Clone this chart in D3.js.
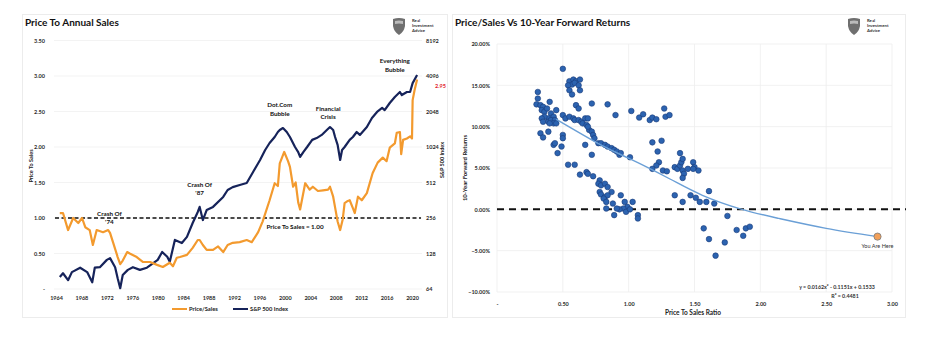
<!DOCTYPE html>
<html>
<head>
<meta charset="utf-8">
<script src="https://cdn.jsdelivr.net/npm/d3@7"></script>
<style>
  body { margin: 0; background: #fff; }
  svg text { font-family: Lato, "Open Sans", sans-serif; }
</style>
</head>
<body>
<svg id="chart" width="927" height="337"></svg>
<script>
// ---- left chart data: price to sales ratio and S&P 500 ----
const psYears = [
  1964.6,1965.1,1965.9,1966.7,1967.5,1968.1,1968.6,1969.3,1969.8,1970.4,
  1971.4,1972.2,1972.5,1973.0,1973.7,1974.1,1974.5,1975.2,1975.6,1976.7,
  1977.7,1978.8,1979.9,1980.8,1981.9,1982.4,1983.0,1983.5,1984.6,1985.5,
  1986.3,1986.6,1987.1,1987.7,1988.7,1989.5,1990.3,1991.0,1991.8,1992.9,
  1994.0,1994.8,1995.8,1996.5,1997.6,1998.4,1998.9,1999.2,1999.9,2000.5,
  2000.8,2001.3,2001.7,2002.1,2002.4,2003.2,2003.9,2004.4,2005.2,2006.0,
  2006.8,2007.1,2007.6,2007.9,2008.3,2008.7,2009.1,2009.4,2009.9,2010.2,
  2010.7,2011.0,2011.5,2012.1,2012.9,2013.8,2014.6,2015.4,2016.0,2016.5,
  2017.3,2017.6,2018.1,2018.3,2018.6,2019.2,2019.7,2020.0,2020.1,2020.4,
  2020.8];
const psValues = [
  1.07,1.07,0.83,1.00,0.93,1.00,0.87,0.83,0.62,0.83,
  0.80,0.83,0.79,0.65,0.45,0.35,0.40,0.52,0.50,0.45,
  0.38,0.38,0.34,0.31,0.37,0.32,0.44,0.45,0.48,0.58,
  0.69,0.69,0.62,0.55,0.55,0.60,0.52,0.62,0.65,0.66,
  0.69,0.66,0.80,0.95,1.25,1.49,1.45,1.77,1.93,1.80,
  1.72,1.44,1.50,1.22,1.12,1.49,1.40,1.44,1.38,1.39,
  1.40,1.44,1.30,1.15,0.95,0.83,0.98,1.21,1.24,1.25,
  1.14,1.07,1.30,1.25,1.35,1.63,1.78,1.85,1.80,1.99,
  2.05,2.20,2.21,1.90,2.10,2.12,2.15,2.12,2.66,2.80,
  2.95];
const spxYears = [
  1964.6,1965.1,1965.9,1966.5,1967.8,1968.9,1969.7,1970.1,1970.9,1972.0,
  1972.5,1973.3,1973.7,1974.1,1974.5,1975.3,1976.1,1977.2,1978.3,1979.3,
  1980.0,1980.7,1981.5,1981.9,1982.7,1983.8,1984.6,1985.5,1986.3,1986.6,
  1987.1,1987.7,1988.7,1990.3,1991.0,1991.8,1992.9,1994.0,1995.0,1996.1,
  1996.9,1997.6,1998.4,1998.9,1999.2,1999.7,2000.3,2000.8,2001.6,2002.1,
  2002.4,2002.9,2003.5,2004.3,2005.0,2005.8,2006.6,2007.1,2007.6,2007.9,
  2008.3,2008.7,2009.0,2009.4,2010.2,2010.7,2011.3,2011.8,2012.9,2013.7,
  2014.5,2015.3,2015.7,2016.5,2017.3,2018.1,2018.4,2019.2,2019.7,2020.1,
  2020.8];
const spxValues = [
  81,87,76,89,97,89,73,97,98,113,
  117,98,79,65,84,93,98,93,97,106,
  113,132,120,109,167,157,177,232,288,318,
  246,299,318,386,442,468,488,507,629,795,
  966,1107,1244,1372,1427,1483,1372,1244,1024,928,
  843,928,1024,1177,1219,1296,1427,1512,1427,1244,
  1066,795,966,1024,1177,1244,1372,1296,1512,1806,
  2030,2195,2105,2418,2720,2998,2823,2998,2998,3565,
  4173];
const yearTicks = [1964,1968,1972,1976,1980,1984,1988,1992,1996,2000,2004,2008,2012,2016,2020];
const psTicks = [0,0.5,1,1.5,2,2.5,3,3.5];
const spxTicks = [64,128,256,512,1024,2048,4096,8192];
const events = [
  {year: 1972.4, value: 1.03, lines: ["Crash Of", "'74"]},
  {year: 1986.6, value: 1.44, lines: ["Crash Of", "'87"]},
  {year: 1999.2, value: 2.56, lines: ["Dot.Com", "Bubble"]},
  {year: 2006.8, value: 2.51, lines: ["Financial", "Crisis"]},
  {year: 2017.3, value: 3.18, lines: ["Everything", "Bubble"]}
];

// ---- right chart data: price/sales vs 10-year forward returns (%) ----
const scatterRatio = [
  0.50,0.55,0.58,0.60,0.63,0.57,0.59,0.62,0.54,0.55,0.57,0.63,0.31,0.31,0.30,
  0.33,0.35,0.34,0.36,0.38,0.40,0.41,0.43,0.39,0.36,0.34,0.35,0.39,0.41,0.44,
  0.45,0.43,0.40,0.45,0.50,0.52,0.60,0.62,0.55,0.58,0.59,0.62,0.64,0.67,0.69,
  0.65,0.68,0.70,0.69,0.72,0.73,0.74,0.77,0.79,0.82,0.84,0.87,0.89,0.91,0.93,
  0.94,0.72,0.84,0.90,1.02,1.08,1.11,1.16,1.18,1.21,1.27,1.28,1.31,0.33,0.35,
  0.39,0.50,0.50,0.43,0.44,0.49,0.46,0.67,0.72,0.54,0.59,0.63,0.68,0.69,0.73,
  0.78,0.77,0.79,0.82,0.84,0.87,0.78,0.79,0.82,0.84,0.81,0.83,0.88,0.94,0.97,
  1.03,0.99,0.96,0.93,0.91,0.83,0.89,0.98,1.07,1.07,1.01,1.01,1.18,1.25,1.22,
  1.23,1.21,1.18,1.26,1.29,1.35,1.37,1.39,1.40,1.41,1.39,1.41,1.42,1.45,1.49,
  1.50,1.53,1.49,1.41,1.35,1.41,1.47,1.51,1.54,1.59,1.61,1.65,1.75,1.57,1.61,
  1.66,1.73,1.82,1.87,1.89,1.92];
const scatterReturn = [
  17.0,15.5,15.7,15.5,15.7,15.1,15.3,15.0,15.0,14.4,13.9,14.4,14.2,13.4,12.7,
  12.6,12.4,12.0,11.8,12.2,13.0,11.6,11.2,11.0,11.2,11.0,10.6,10.6,10.8,10.8,
  12.0,10.4,10.4,10.4,11.4,11.0,12.6,12.2,11.2,11.0,10.8,10.8,10.6,11.0,11.0,
  10.4,10.2,9.6,10.0,9.4,9.0,8.6,8.0,8.0,7.8,7.6,7.4,7.2,7.0,6.6,
  6.8,12.8,12.7,11.4,11.9,11.1,11.5,10.8,11.1,10.9,12.2,11.2,11.4,9.2,8.7,
  9.4,9.0,8.6,7.8,8.0,7.6,6.8,7.8,6.6,5.4,5.4,4.2,4.5,4.3,4.0,
  3.5,3.1,2.9,3.1,2.7,2.1,2.1,1.8,1.5,1.7,1.3,0.9,0.7,1.7,0.9,
  0.9,0.3,0.1,0.0,0.1,0.1,-0.7,-0.3,-0.7,-1.1,0.0,6.3,8.1,8.3,7.0,
  5.7,5.3,4.9,4.7,4.6,5.1,4.9,5.3,5.7,6.1,6.8,4.7,4.3,4.9,5.7,
  5.1,4.7,4.9,3.8,1.7,0.9,1.7,1.4,0.9,0.9,2.2,0.7,-0.8,-2.3,-3.6,
  -5.6,-4.0,-2.5,-3.2,-2.3,-2.1];
const trendRatio = [0.45, 0.80, 1.01, 1.31, 1.56, 1.86, 2.14, 2.50, 2.89];
const trendReturn = [10.9, 7.7, 6.1, 3.7, 1.7, 0.0, -1.1, -2.3, -3.3];
const currentRatio = 2.89;
const currentReturn = -3.3;
const returnTicks = [-10, -5, 0, 5, 10, 15, 20];
const ratioTicks = [0, 0.5, 1, 1.5, 2, 2.5, 3];

const svg = d3.select("#chart");
const orange = "#F39A2E", navy = "#16235A";
const tickColor = "#2a2a2a";

// panel frames
svg.append("rect").attr("x", 22.5).attr("y", 14.5).attr("width", 425).attr("height", 303)
  .attr("fill", "#fff").attr("stroke", "#ececec");
svg.append("rect").attr("x", 452.5).attr("y", 14.5).attr("width", 453).attr("height", 303)
  .attr("fill", "#fff").attr("stroke", "#ececec");

// little logo, shield plus three words
function logo(x, y) {
  const g = svg.append("g").attr("transform", `translate(${x},${y})`);
  g.append("path").attr("d", "M0,1 Q6,-1 12,1 L12,8 Q11,14 6,17 Q1,14 0,8 Z").attr("fill", "#6f6f6f");
  g.append("path").attr("d", "M2,3 Q6,2 10,3 L10,6 Q6,5 2,6 Z").attr("fill", "#bbb");
  ["Real", "Investment", "Advice"].forEach((t, i) => {
    g.append("text").attr("x", 19).attr("y", 4 + i * 5).attr("font-size", 4.3)
      .attr("font-weight", "bold").attr("fill", "#333").text(t);
  });
}
logo(393, 18);
logo(848, 18);

// ============ left chart ============
svg.append("text").attr("x", 25).attr("y", 26).attr("font-size", 10).attr("font-weight", "bold")
  .attr("fill", "#111").text("Price To Annual Sales");

const x = d3.scaleLinear().domain([1964, 2020]).range([56, 412]);
const yPS = d3.scaleLinear().domain([0, 3.5]).range([289, 40.5]);
const ySPX = d3.scaleLog().base(2).domain([64, 8192]).range([289, 40.5]);
const left = svg.append("g");

left.selectAll("line.grid").data(psTicks).join("line")
  .attr("x1", 54).attr("x2", 422).attr("y1", d => yPS(d)).attr("y2", d => yPS(d))
  .attr("stroke", "#f0f0f0").attr("stroke-width", 0.8);

const fmtPS = d => d === 0 ? "-" : d3.format(".2f")(d);
left.append("g").attr("transform", "translate(48,0)")
  .call(d3.axisLeft(yPS).tickValues(psTicks).tickFormat(fmtPS).tickSize(0))
  .call(g => g.select(".domain").remove())
  .call(g => g.selectAll("text").attr("font-size", 5.5).attr("font-weight", "bold").attr("fill", tickColor));

left.append("g").attr("transform", "translate(423,0)")
  .call(d3.axisRight(ySPX).tickValues(spxTicks).tickFormat(d3.format("d")).tickSize(0))
  .call(g => g.select(".domain").remove())
  .call(g => g.selectAll("text").attr("font-size", 5.5).attr("font-weight", "bold").attr("fill", tickColor));

left.append("g").attr("transform", "translate(0,293)")
  .call(d3.axisBottom(x).tickValues(yearTicks).tickFormat(d3.format("d")).tickSize(0))
  .call(g => g.select(".domain").remove())
  .call(g => g.selectAll("text").attr("font-size", 5.5).attr("font-weight", "bold").attr("fill", tickColor));

left.append("text").attr("transform", "translate(33,166) rotate(-90)").attr("text-anchor", "middle")
  .attr("font-size", 5.5).attr("font-weight", "bold").attr("fill", "#222").text("Price To Sales");
left.append("text").attr("transform", "translate(444,160) rotate(-90)").attr("text-anchor", "middle")
  .attr("font-size", 5.5).attr("font-weight", "bold").attr("fill", "#222").text("S&P 500 Index");

// P/S = 1 reference
left.append("line").attr("x1", 55).attr("x2", 421).attr("y1", yPS(1)).attr("y2", yPS(1))
  .attr("stroke", "#111").attr("stroke-width", 1.3).attr("stroke-dasharray", "4,2.5");

const spxLine = d3.line().x((d, i) => x(spxYears[i])).y(d => ySPX(d));
const psLine = d3.line().x((d, i) => x(psYears[i])).y(d => yPS(d));
left.append("path").datum(spxValues).attr("d", spxLine).attr("fill", "none")
  .attr("stroke", navy).attr("stroke-width", 2.2).attr("stroke-linejoin", "round");
left.append("path").datum(psValues).attr("d", psLine).attr("fill", "none")
  .attr("stroke", orange).attr("stroke-width", 2.2).attr("stroke-linejoin", "round");

left.append("text").attr("x", 435).attr("y", yPS(psValues[psValues.length - 1]) + 8)
  .attr("font-size", 5.5).attr("font-weight", "bold").attr("fill", "#e0202a")
  .text(d3.format(".2f")(psValues[psValues.length - 1]));

events.forEach(e => {
  const t = left.append("text").attr("text-anchor", "middle").attr("font-size", 6.3)
    .attr("font-weight", "bold").attr("fill", "#111");
  e.lines.forEach((s, i) => {
    t.append("tspan").attr("x", x(e.year)).attr("y", yPS(e.value) + i * 8.5).text(s);
  });
});
left.append("text").attr("x", x(2001.6)).attr("y", yPS(1) + 11).attr("text-anchor", "middle")
  .attr("font-size", 6.3).attr("font-weight", "bold").attr("fill", "#111").text("Price To Sales = 1.00");

// legend
const legend = [{label: "Price/Sales", color: orange, x: 172}, {label: "S&P 500 Index", color: navy, x: 233}];
legend.forEach(l => {
  left.append("line").attr("x1", l.x).attr("x2", l.x + 15).attr("y1", 309).attr("y2", 309)
    .attr("stroke", l.color).attr("stroke-width", 2);
  left.append("text").attr("x", l.x + 17).attr("y", 311).attr("font-size", 5.8)
    .attr("font-weight", "bold").attr("fill", "#222").text(l.label);
});

// ============ right chart ============
svg.append("text").attr("x", 455).attr("y", 26).attr("font-size", 10).attr("font-weight", "bold")
  .attr("fill", "#111").text("Price/Sales Vs 10-Year Forward Returns");

const xr = d3.scaleLinear().domain([0, 3]).range([497, 892]);
const yr = d3.scaleLinear().domain([-10, 20]).range([292, 44]);
const right = svg.append("g");

right.selectAll("line.hgrid").data(returnTicks).join("line")
  .attr("x1", xr(0)).attr("x2", xr(3)).attr("y1", d => yr(d)).attr("y2", d => yr(d))
  .attr("stroke", "#eeeeee").attr("stroke-width", 0.8);
right.selectAll("line.vgrid").data(ratioTicks).join("line")
  .attr("x1", d => xr(d)).attr("x2", d => xr(d)).attr("y1", yr(20)).attr("y2", yr(-10))
  .attr("stroke", "#eeeeee").attr("stroke-width", 0.8);

right.append("g").attr("transform", `translate(${xr(0) - 4},0)`)
  .call(d3.axisLeft(yr).tickValues(returnTicks).tickFormat(d => d3.format(".2f")(d) + "%").tickSize(0))
  .call(g => g.select(".domain").remove())
  .call(g => g.selectAll("text").attr("font-size", 5.5).attr("font-weight", "bold").attr("fill", tickColor));
right.append("g").attr("transform", "translate(0,299)")
  .call(d3.axisBottom(xr).tickValues(ratioTicks).tickFormat(d => d === 0 ? "-" : d3.format(".2f")(d)).tickSize(0))
  .call(g => g.select(".domain").remove())
  .call(g => g.selectAll("text").attr("font-size", 5.5).attr("font-weight", "bold").attr("fill", tickColor));

right.append("text").attr("transform", "translate(467,168) rotate(-90)").attr("text-anchor", "middle")
  .attr("font-size", 6).attr("font-weight", "bold").attr("fill", "#222").text("10-Year Forward Returns");
right.append("text").attr("x", 693).attr("y", 315).attr("text-anchor", "middle")
  .attr("font-size", 6.5).attr("font-weight", "bold").attr("fill", "#222").text("Price To Sales Ratio");

right.append("line").attr("x1", xr(0)).attr("x2", 906).attr("y1", yr(0)).attr("y2", yr(0))
  .attr("stroke", "#111").attr("stroke-width", 2).attr("stroke-dasharray", "7,5");

right.selectAll("circle.pt").data(scatterRatio).join("circle")
  .attr("cx", d => xr(d)).attr("cy", (d, i) => yr(scatterReturn[i])).attr("r", 2.8)
  .attr("fill", "#2C63B0").attr("stroke", "#1A3B78").attr("stroke-width", 0.6);

const trendLine = d3.line().curve(d3.curveNatural).x(d => xr(d)).y((d, i) => yr(trendReturn[i]));
right.append("path").datum(trendRatio).attr("d", trendLine).attr("fill", "none")
  .attr("stroke", "#6A9FD6").attr("stroke-width", 1.4);

right.append("circle").attr("cx", xr(currentRatio)).attr("cy", yr(currentReturn)).attr("r", 3.6)
  .attr("fill", "#F2A05A").attr("stroke", "#7a7a7a").attr("stroke-width", 0.8);
right.append("text").attr("x", xr(currentRatio)).attr("y", yr(currentReturn) + 11).attr("text-anchor", "middle")
  .attr("font-size", 5.5).attr("fill", "#333").text("You Are Here");

right.append("text").attr("x", 837).attr("y", 289).attr("text-anchor", "middle").attr("font-size", 5.3)
  .attr("font-weight", "bold").attr("fill", "#333").text("y = 0.0162x² - 0.1151x + 0.1533");
right.append("text").attr("x", 845).attr("y", 298).attr("text-anchor", "middle").attr("font-size", 5.3)
  .attr("font-weight", "bold").attr("fill", "#333").text("R² = 0.4481");
</script>
</body>
</html>
